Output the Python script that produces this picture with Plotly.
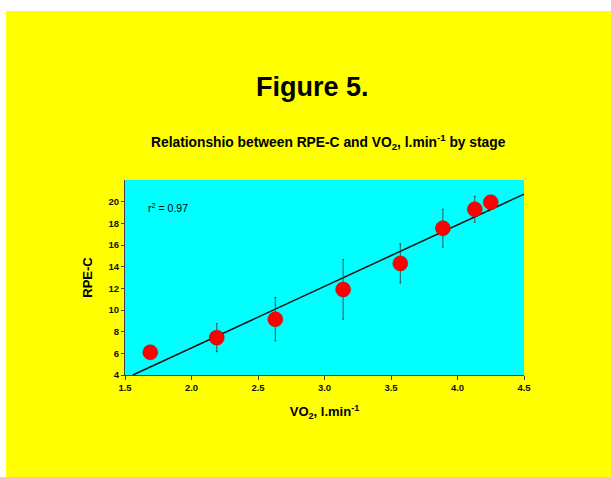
import plotly.graph_objects as go

# Mean oxygen uptake and perceived exertion per exercise stage
vo2 = [1.69, 2.19, 2.63, 3.14, 3.57, 3.89, 4.13, 4.25]
rpe_c = [6.1, 7.45, 9.15, 11.9, 14.3, 17.55, 19.3, 19.95]
rpe_sd = [0.0, 1.3, 2.0, 2.75, 1.8, 1.75, 1.2, 0.0]

# Linear regression RPE-C = slope * VO2 + intercept
slope = 5.68
intercept = -4.86
r_squared = 0.97

x_ticks = [1.5, 2.0, 2.5, 3.0, 3.5, 4.0, 4.5]
y_ticks = [4, 6, 8, 10, 12, 14, 16, 18, 20]
x_range = [1.5, 4.5]
y_range = [4, 22]

# Regression line clipped to the visible y range
x_start = (y_range[0] - intercept) / slope
fit_x = [x_start, x_range[1]]
fit_y = [slope * v + intercept for v in fit_x]

fig = go.Figure()

fig.add_trace(go.Scatter(
    x=fit_x, y=fit_y, mode="lines",
    line=dict(color="#111111", width=1.5),
    hoverinfo="skip", showlegend=False,
))

fig.add_trace(go.Scatter(
    x=vo2, y=rpe_c, mode="markers",
    marker=dict(color="#ff0000", size=15, line=dict(color="#c00000", width=0.5)),
    error_y=dict(type="data", array=rpe_sd, visible=True,
                 color="#333333", thickness=0.8, width=1),
    showlegend=False,
))

axis_font = dict(family="Arial, Liberation Sans, sans-serif", size=9.5, color="#111111")

fig.update_layout(
    width=611, height=477,
    margin=dict(l=125, r=87, t=180, b=102),
    paper_bgcolor="white",
    plot_bgcolor="rgba(0,0,0,0)",
    font=dict(family="Arial, Liberation Sans, sans-serif", color="black"),
    xaxis=dict(
        range=x_range, tickvals=x_ticks,
        ticktext=[f"{v:.1f}" for v in x_ticks],
        showgrid=False, zeroline=False,
        showline=True, linecolor="#444444", linewidth=1,
        ticks="outside", ticklen=4, tickcolor="#444444",
        tickfont=dict(**axis_font, weight="bold"),
        title=dict(text="VO<sub>2</sub>, l.min<sup>-1</sup>",
                   font=dict(size=13, weight="bold"), standoff=14),
    ),
    yaxis=dict(
        range=y_range, tickvals=y_ticks,
        showgrid=False, zeroline=False,
        showline=True, linecolor="#444444", linewidth=1,
        ticks="outside", ticklen=3, tickcolor="#444444",
        tickfont=dict(**axis_font, weight="bold"),
        title=dict(text="RPE-C", font=dict(size=13, weight="bold"), standoff=12),
    ),
    shapes=[
        # yellow slide background
        dict(type="rect", xref="paper", yref="paper", layer="below",
             x0=-0.298, x1=1.22, y0=-0.53, y1=1.867,
             fillcolor="#ffff00", line=dict(width=0)),
        # cyan plotting area
        dict(type="rect", xref="paper", yref="paper", layer="below",
             x0=0, x1=1, y0=0, y1=1,
             fillcolor="#00ffff", line=dict(width=0)),
    ],
    annotations=[
        dict(text="<b>Figure 5.</b>", xref="paper", yref="paper",
             x=0.469, y=1.475, xanchor="center", yanchor="middle",
             showarrow=False, font=dict(size=27, color="black")),
        dict(text="<b>Relationshio between RPE-C and VO<sub>2</sub>, l.min<sup>-1</sup> by stage</b>",
             xref="paper", yref="paper", x=0.51, y=1.195,
             xanchor="center", yanchor="middle",
             showarrow=False, font=dict(size=13.8, color="black")),
        dict(text=f"r<sup>2</sup> = {r_squared:.2f}", xref="paper", yref="paper",
             x=0.053, y=0.86, xanchor="left", yanchor="middle",
             showarrow=False, font=dict(size=10.5, color="black")),
    ],
)

fig.write_html("out.html")
